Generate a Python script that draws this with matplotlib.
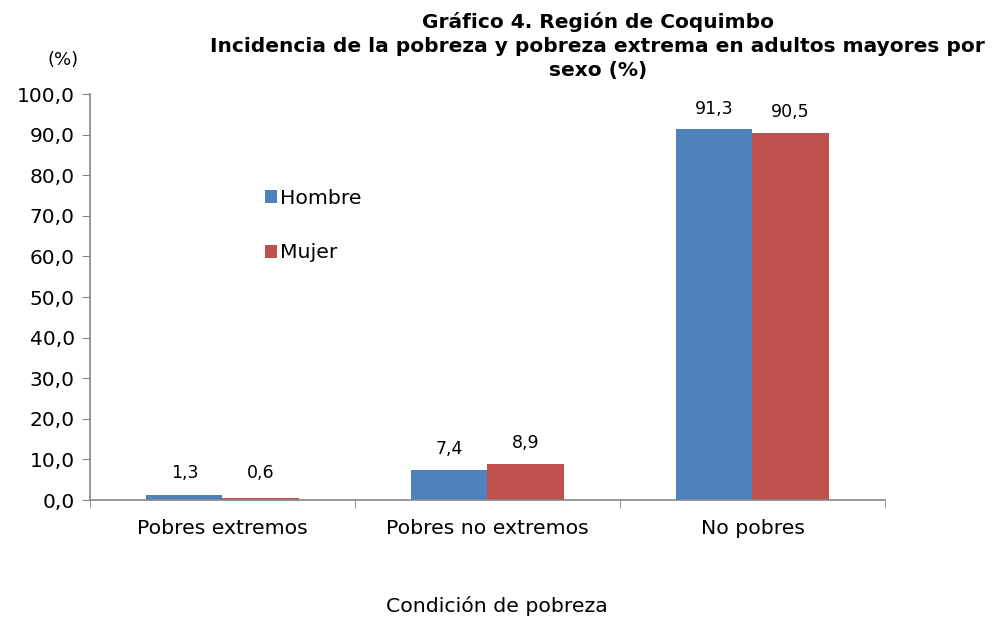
import matplotlib.pyplot as plt
import numpy as np

categorias = ["Pobres extremos", "Pobres no extremos", "No pobres"]
hombre = [1.3, 7.4, 91.3]
mujer = [0.6, 8.9, 90.5]
series = ["Hombre", "Mujer"]
yticks = [0, 10, 20, 30, 40, 50, 60, 70, 80, 90, 100]

plt.rcParams['font.family'] = ['DejaVu Sans']

fig = plt.figure(figsize=(9.93, 6.21), dpi=100)
ax = fig.add_axes([0.0906, 0.1948, 0.8006, 0.6538])

x = np.arange(len(categorias))
w = 0.287
b1 = ax.bar(x - w/2, hombre, w, color="#4F81BD", label=series[0])
b2 = ax.bar(x + w/2, mujer, w, color="#C0504D", label=series[1])

def fmt(v):
    return ("%.1f" % v).replace(".", ",")

for bars, vals in ((b1, hombre), (b2, mujer)):
    for r, v in zip(bars, vals):
        ax.annotate(fmt(v), (r.get_x() + r.get_width()/2, max(v, 1.5)),
                    xytext=(0, 15), textcoords="offset points",
                    ha="center", va="center", fontsize=12.5)

ax.set_xlim(-0.5, 2.5)
ax.set_ylim(0, 100)
ax.set_yticks(yticks)
ax.set_yticklabels([fmt(v) for v in yticks], fontsize=14.5)
ax.set_xticks(x)
ax.set_xticklabels(categorias, fontsize=14.7)
ax.tick_params(axis="x", length=0, pad=14)
ax.set_xticks([-0.5, 0.5, 1.5, 2.5], minor=True)
ax.tick_params(axis="x", which="minor", length=6, color="#868686")
ax.tick_params(axis="y", length=6, color="#868686", pad=5)

for s in ("top", "right"):
    ax.spines[s].set_visible(False)
for s in ("left", "bottom"):
    ax.spines[s].set_color("#868686")
    ax.spines[s].set_linewidth(1.2)

ax.legend(loc="upper left", bbox_to_anchor=(0.197, 0.812), frameon=False, fontsize=14.7,
          handlelength=0.6, handleheight=0.6, handletextpad=0.15, labelspacing=1.75)

fig.text(0.064, 0.903, "(%)", ha="center", va="center", fontsize=13)
fig.text(0.602, 0.926, "Gráfico 4. Región de Coquimbo\nIncidencia de la pobreza y pobreza extrema en adultos mayores por\nsexo (%)",
         ha="center", va="center", fontsize=14.5, fontweight="bold", linespacing=1.35)
fig.text(0.5, 0.024, "Condición de pobreza", ha="center", va="center", fontsize=14.7)

fig.savefig("out.png", dpi=100)
